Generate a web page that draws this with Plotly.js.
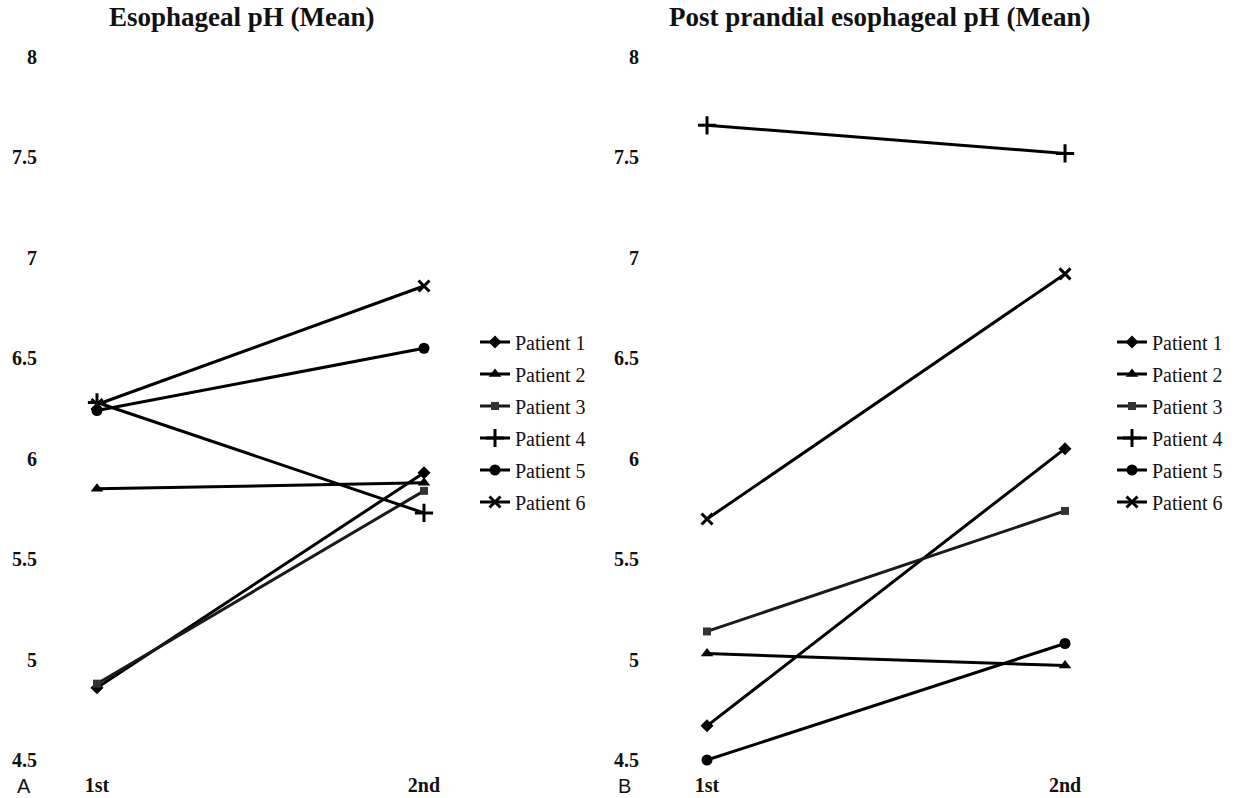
<!DOCTYPE html>
<html>
<head>
<meta charset="utf-8">
<script src="https://cdn.plot.ly/plotly-3.0.1.min.js"></script>
<style>html,body{margin:0;padding:0;background:#fff;}#chart{width:1235px;height:798px;}</style>
</head>
<body>
<div id="chart"></div>
<script>
var categories = ['1st', '2nd'];
var patientNames = ['Patient 1', 'Patient 2', 'Patient 3', 'Patient 4', 'Patient 5', 'Patient 6'];
var yTicks = [4.5, 5, 5.5, 6, 6.5, 7, 7.5, 8];

// Panel A: Esophageal pH (Mean)
var a_p1 = [4.86, 5.93];
var a_p2 = [5.85, 5.88];
var a_p3 = [4.88, 5.84];
var a_p4 = [6.28, 5.73];
var a_p5 = [6.24, 6.55];
var a_p6 = [6.27, 6.86];

// Panel B: Post prandial esophageal pH (Mean)
var b_p1 = [4.67, 6.05];
var b_p2 = [5.03, 4.97];
var b_p3 = [5.14, 5.74];
var b_p4 = [7.66, 7.52];
var b_p5 = [4.50, 5.08];
var b_p6 = [5.70, 6.92];

var W = 1235, H = 798;
var serif = 'Liberation Serif';

var markerStyles = [
  {symbol: 'diamond', size: 10, color: '#000'},
  {symbol: 'triangle-up', size: 11, color: '#000'},
  {symbol: 'square', size: 8, color: '#333'},
  {symbol: 'cross-thin', size: 13, color: '#000', line: {width: 3, color: '#000'}},
  {symbol: 'circle', size: 11, color: '#000'},
  {symbol: 'x-thin', size: 11, color: '#000', line: {width: 3, color: '#000'}}
];
var lineColors = ['#000', '#000', '#1a1a1a', '#000', '#000', '#000'];

var aSeries = [a_p1, a_p2, a_p3, a_p4, a_p5, a_p6];
var bSeries = [b_p1, b_p2, b_p3, b_p4, b_p5, b_p6];

var traces = [];
function addPanel(series, xa, ya, leg, grpPrefix) {
  series.forEach(function (vals, i) {
    traces.push({
      type: 'scatter', mode: 'lines+markers',
      x: categories, y: vals, xaxis: xa, yaxis: ya,
      name: patientNames[i], legend: leg, legendgroup: grpPrefix + i,
      line: {color: lineColors[i], width: 3},
      marker: markerStyles[i],
      cliponaxis: false
    });
  });
}
addPanel(aSeries, 'x', 'y', 'legend', 'a');
addPanel(bSeries, 'x2', 'y2', 'legend2', 'b');

var tickFont = {family: serif, size: 20, color: '#111', weight: 'bold'};
var yDomain = [1 - 760 / H, 1 - 57 / H];
var xPos = 1 - 771 / H;

function xAxis(d0, d1, r0, r1) {
  return {
    type: 'category', domain: [d0 / W, d1 / W], range: [r0, r1],
    anchor: 'free', position: xPos,
    showgrid: false, zeroline: false, showline: false, ticks: '',
    tickfont: tickFont, fixedrange: true
  };
}
function yAxis(anchor) {
  return {
    domain: yDomain, range: [4.5, 8], tickvals: yTicks, ticktext: yTicks.map(String),
    anchor: anchor, showgrid: false, zeroline: false, showline: false, ticks: '',
    tickfont: tickFont, fixedrange: true
  };
}

var legendFont = {family: serif, size: 20, color: '#111', weight: 'normal'};
var layout = {
  width: W, height: H,
  margin: {l: 0, r: 0, t: 0, b: 0},
  paper_bgcolor: '#fff', plot_bgcolor: '#fff',
  font: {family: serif, color: '#111'},
  xaxis: xAxis(38, 440, -0.1804, 1.049),
  yaxis: yAxis('x'),
  xaxis2: xAxis(640, 1085, -0.1872, 1.0558),
  yaxis2: yAxis('x2'),
  legend: {x: 475 / W, xanchor: 'left', y: 1 - 422 / H, yanchor: 'middle',
    font: legendFont, traceorder: 'grouped', tracegroupgap: 3, itemwidth: 30,
    bgcolor: 'rgba(0,0,0,0)', borderwidth: 0},
  legend2: {x: 1112 / W, xanchor: 'left', y: 1 - 422 / H, yanchor: 'middle',
    font: legendFont, traceorder: 'grouped', tracegroupgap: 3, itemwidth: 30,
    bgcolor: 'rgba(0,0,0,0)', borderwidth: 0},
  showlegend: true,
  annotations: [
    {text: 'Esophageal pH (Mean)', xref: 'paper', yref: 'paper', x: 242 / W, y: 1 - 17 / H,
      xanchor: 'center', yanchor: 'middle', showarrow: false,
      font: {family: serif, size: 27, color: '#111', weight: 'bold'}},
    {text: 'Post prandial esophageal pH (Mean)', xref: 'paper', yref: 'paper', x: 880 / W, y: 1 - 17 / H,
      xanchor: 'center', yanchor: 'middle', showarrow: false,
      font: {family: serif, size: 27, color: '#111', weight: 'bold'}},
    {text: 'A', xref: 'paper', yref: 'paper', x: 24 / W, y: 1 - 786 / H,
      xanchor: 'center', yanchor: 'middle', showarrow: false,
      font: {family: 'Liberation Sans', size: 20, color: '#111'}},
    {text: 'B', xref: 'paper', yref: 'paper', x: 624 / W, y: 1 - 786 / H,
      xanchor: 'center', yanchor: 'middle', showarrow: false,
      font: {family: 'Liberation Sans', size: 20, color: '#111'}}
  ]
};

Plotly.newPlot('chart', traces, layout, {displayModeBar: false, staticPlot: true});
</script>
</body>
</html>
